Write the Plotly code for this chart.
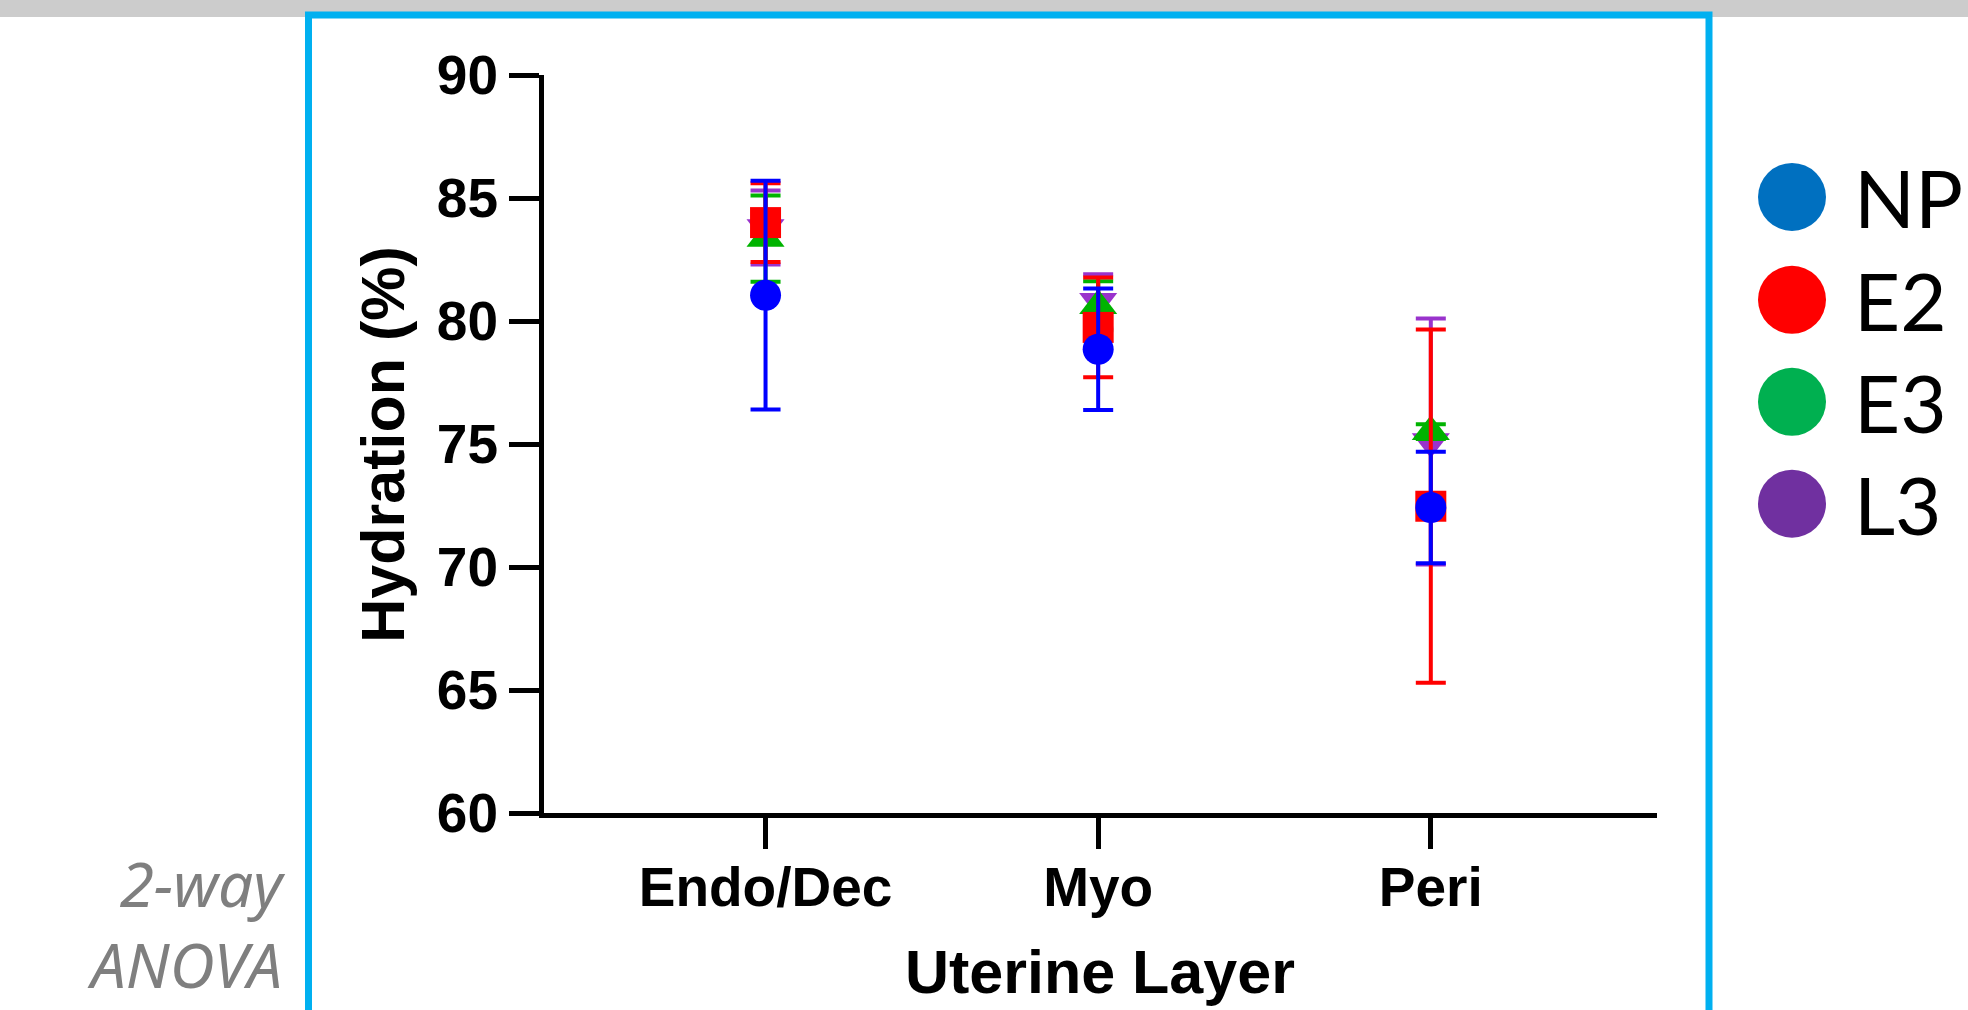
import plotly.graph_objects as go

# ---------------- data ----------------
layers = ["Endo/Dec", "Myo", "Peri"]
groups = ["NP", "E2", "E3", "L3"]

np_mean = [81.05, 78.85, 72.42]
np_err = [4.65, 2.47, 2.27]
e2_mean = [84.0, 79.74, 72.47]
e2_err = [1.6, 2.03, 7.18]
e3_mean = [83.35, 80.62, 75.5]
e3_err = [1.75, 1.0, 0.3]
l3_mean = [83.8, 80.8, 75.1]
l3_err = [1.5, 1.1, 5.0]

y_ticks = [60, 65, 70, 75, 80, 85, 90]

# ---------------- geometry helpers ----------------
FW, FH = 1968, 1010
L, R, T, B = 544, 1657, 75, 813.5
PW, PH = R - L, B - T


def px(x):
    return (x - L) / PW


def py(y):
    return (B - y) / PH


fig = go.Figure()

series = [
    ("L3", l3_mean, l3_err, "#9933CC", "triangle-down", 33),
    ("E3", e3_mean, e3_err, "#00B300", "triangle-up", 33),
    ("E2", e2_mean, e2_err, "#FF0000", "square", 31),
    ("NP", np_mean, np_err, "#0000FF", "circle", 31),
]

for name, m, e, col, sym, sz in series:
    fig.add_trace(go.Scatter(
        x=layers, y=m, name=name, mode="markers",
        marker=dict(color=col, symbol=sym, size=sz, line=dict(width=0)),
        error_y=dict(type="data", array=e, visible=True, color=col,
                     thickness=4, width=15),
        showlegend=False,
    ))

axis_font = dict(family="Liberation Sans, Arial, sans-serif", size=55,
                 color="black", weight="bold")

fig.update_xaxes(
    type="category", range=[-0.666, 2.68],
    showline=True, linecolor="black", linewidth=5,
    ticks="outside", ticklen=31, tickwidth=5, tickcolor="black",
    tickfont=axis_font, showgrid=False, zeroline=False,
    ticklabelstandoff=-9,
)
fig.update_yaxes(
    range=[60, 90], tickvals=y_ticks,
    showline=True, linecolor="black", linewidth=5,
    ticks="outside", ticklen=30, tickwidth=5, tickcolor="black",
    tickfont=axis_font, showgrid=False, zeroline=False,
)

title_font = dict(family="Liberation Sans, Arial, sans-serif", size=61,
                  color="black", weight="bold")

anova_font = dict(family="Noto Sans, sans-serif", size=62, color="#7F7F7F")

annotations = [
    dict(text="Hydration (%)", x=px(383), y=py(445), xref="paper", yref="paper",
         textangle=-90, showarrow=False, font=title_font,
         xanchor="center", yanchor="middle"),
    dict(text="Uterine Layer", x=px(1100), y=py(973), xref="paper", yref="paper",
         showarrow=False, font=title_font, xanchor="center", yanchor="middle"),
    dict(text="<i>2-way</i><br><i>ANOVA</i>", x=px(287), y=py(924),
         xref="paper", yref="paper", align="right",
         showarrow=False, xanchor="right", yanchor="middle", font=anova_font),
]

shapes = [
    dict(type="rect", xref="paper", yref="paper", x0=px(0), x1=px(FW),
         y0=py(0), y1=py(17), fillcolor="#CCCCCC", line=dict(width=0),
         layer="below"),
    dict(type="rect", xref="paper", yref="paper", x0=px(308.5), x1=px(1709),
         y0=py(15), y1=py(1200), fillcolor="rgba(0,0,0,0)",
         line=dict(color="#00B0F0", width=7), layer="below"),
]

legend_colors = ["#0070C0", "#FF0000", "#00B050", "#7030A0"]
legend_y = [197, 300, 402, 504]
for g, c, ly in zip(groups, legend_colors, legend_y):
    shapes.append(dict(type="circle", xref="paper", yref="paper",
                       x0=px(1792 - 34), x1=px(1792 + 34),
                       y0=py(ly - 34), y1=py(ly + 34),
                       fillcolor=c, line=dict(width=0)))
    annotations.append(dict(text=g, x=px(1852), y=py(ly), xref="paper",
                            yref="paper", showarrow=False, xanchor="left",
                            yanchor="middle",
                            font=dict(family="Lato, Noto Sans, sans-serif",
                                      size=80, color="black")))

fig.update_layout(
    width=FW, height=FH,
    margin=dict(l=L, r=FW - R, t=T, b=FH - B, pad=0),
    paper_bgcolor="white", plot_bgcolor="white",
    annotations=annotations, shapes=shapes,
    showlegend=False,
)

fig.write_html("out.html")
